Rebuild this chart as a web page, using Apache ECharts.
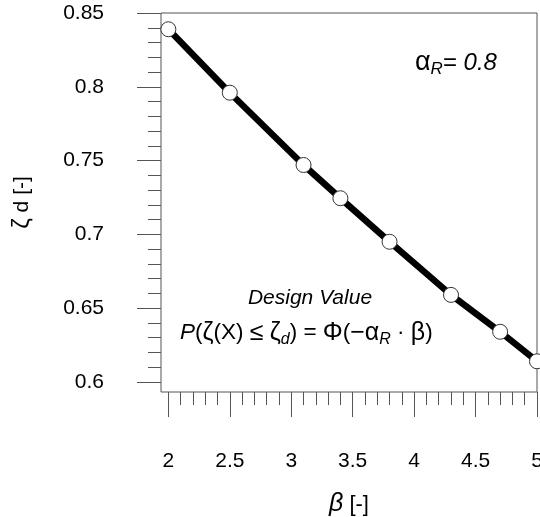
<!DOCTYPE html>
<html>
<head>
<meta charset="utf-8">
<script src="https://cdn.jsdelivr.net/npm/echarts@6/dist/echarts.min.js"></script>
<style>
  html, body { margin: 0; padding: 0; background: #fff; }
  #chart { width: 540px; height: 517px; }
</style>
</head>
<body>
<div id="chart"></div>
<script>
// ---- data ----
const beta = [2.0, 2.5, 3.1, 3.4, 3.8, 4.3, 4.7, 5.0];
const zetaD = [0.839, 0.796, 0.747, 0.7245, 0.695, 0.659, 0.634, 0.614];

const xMajorTicks = [2, 2.5, 3, 3.5, 4, 4.5, 5];
const xMinorTicks = [2.0, 2.1, 2.2, 2.3, 2.4, 2.5, 2.6, 2.7, 2.8, 2.9, 3.0, 3.1, 3.2, 3.3, 3.4, 3.5,
                     3.6, 3.7, 3.8, 3.9, 4.0, 4.1, 4.2, 4.3, 4.4, 4.5, 4.6, 4.7, 4.8, 4.9, 5.0];
const yMajorTicks = [0.6, 0.65, 0.7, 0.75, 0.8, 0.85];
const yMinorTicks = [0.6, 0.61, 0.62, 0.63, 0.64, 0.65, 0.66, 0.67, 0.68, 0.69, 0.7, 0.71, 0.72, 0.73,
                     0.74, 0.75, 0.76, 0.77, 0.78, 0.79, 0.8, 0.81, 0.82, 0.83, 0.84, 0.85];

const xName = '{i|β} [-]';
const yName = '{g|ζ} d [-]';
const annotAlpha = '{g|α}{sub|R}{n|= }{i|0.8}';
const annotDesign = 'Design Value';
const annotFormula = '{i|P}{n|(}{g|ζ}{n|(X) }{g|≤}{n| }{g|ζ}{sub|d}{n|) = }{g|Φ}{n|(}{g|−}{g|α}{sub|R}{n| · }{g|β}{n|)}';

// ---- chart ----
const FONT = '"Liberation Sans", Arial, Helvetica, sans-serif';
const AX = '#555';
const chart = echarts.init(document.getElementById('chart'), null, { renderer: 'canvas' });

const series = [{
  type: 'line',
  xAxisIndex: 0,
  yAxisIndex: 0,
  data: beta.map((b, i) => [b, zetaD[i]]),
  clip: false,
  lineStyle: { color: '#000', width: 6.5 },
  symbol: 'circle',
  symbolSize: 15,
  itemStyle: { color: '#fff', borderColor: '#333', borderWidth: 1 },
  emphasis: { disabled: true },
  z: 3
}];

const richAnn = {
  g: { fontSize: 25, fontFamily: FONT, lineHeight: 30 },
  sub: { fontSize: 16, fontStyle: 'italic', fontFamily: FONT, lineHeight: 30, verticalAlign: 'bottom' },
  n: { fontSize: 22.5, fontFamily: FONT, lineHeight: 30 },
  i: { fontSize: 22.5, fontStyle: 'italic', fontFamily: FONT, lineHeight: 30 }
};
const richAlpha = {
  g: { fontSize: 27, fontFamily: FONT, lineHeight: 30 },
  sub: { fontSize: 17, fontStyle: 'italic', fontFamily: FONT, lineHeight: 30, verticalAlign: 'bottom' },
  n: { fontSize: 24, fontFamily: FONT, lineHeight: 30 },
  i: { fontSize: 24, fontStyle: 'italic', fontFamily: FONT, lineHeight: 30 }
};

chart.setOption({
  animation: false,
  backgroundColor: '#fff',
  textStyle: { fontFamily: FONT },
  grid: { left: 161, top: 13, right: 3, bottom: 125, outerBoundsMode: 'none', containLabel: false,
          show: true, borderColor: AX, borderWidth: 1, backgroundColor: 'transparent' },
  xAxis: [{
    type: 'value', min: 1.94, max: 5.0, position: 'bottom',
    axisLine: { show: false },
    splitLine: { show: false },
    axisTick: { show: true, customValues: xMajorTicks, length: 25, inside: false, lineStyle: { color: AX, width: 1 } },
    axisLabel: { show: true, customValues: xMajorTicks, margin: 59, color: '#000', fontSize: 21, fontFamily: FONT },
    name: xName, nameLocation: 'middle', nameGap: 100,
    nameTextStyle: { color: '#000', fontSize: 22, fontFamily: FONT, rich: { i: { fontStyle: 'italic', fontSize: 25, fontFamily: FONT } } }
  }, {
    type: 'value', min: 1.94, max: 5.0, position: 'bottom',
    axisLine: { show: false },
    splitLine: { show: false },
    axisTick: { show: true, customValues: xMinorTicks, length: 13, inside: false, lineStyle: { color: AX, width: 1 } },
    axisLabel: { show: false }
  }],
  yAxis: [{
    type: 'value', min: 0.5932, max: 0.85, position: 'left',
    axisLine: { show: false },
    splitLine: { show: false },
    axisTick: { show: true, customValues: yMajorTicks, length: 24, inside: false, lineStyle: { color: AX, width: 1 } },
    axisLabel: { show: true, customValues: yMajorTicks, margin: 57, color: '#000', fontSize: 21, fontFamily: FONT },
    name: yName, nameLocation: 'middle', nameGap: 127, nameRotate: 90,
    nameTextStyle: { color: '#000', fontSize: 21, fontFamily: FONT, rich: { g: { fontSize: 24, fontFamily: FONT } } }
  }, {
    type: 'value', min: 0.5932, max: 0.85, position: 'left',
    axisLine: { show: false },
    splitLine: { show: false },
    axisTick: { show: true, customValues: yMinorTicks, length: 13, inside: false, lineStyle: { color: AX, width: 1 } },
    axisLabel: { show: false }
  }],
  series: series,
  graphic: [{
    type: 'text', x: 415, y: 63, z: 10,
    style: { text: annotAlpha, fill: '#000', font: '24px ' + FONT, align: 'left', verticalAlign: 'middle', rich: richAlpha }
  }, {
    type: 'text', x: 310, y: 298, z: 10,
    style: { text: annotDesign, fill: '#000', font: 'italic 21px ' + FONT, align: 'center', verticalAlign: 'middle' }
  }, {
    type: 'text', x: 180, y: 333, z: 10,
    style: { text: annotFormula, fill: '#000', font: '22.5px ' + FONT, align: 'left', verticalAlign: 'middle', rich: richAnn }
  }]
});
</script>
</body>
</html>
